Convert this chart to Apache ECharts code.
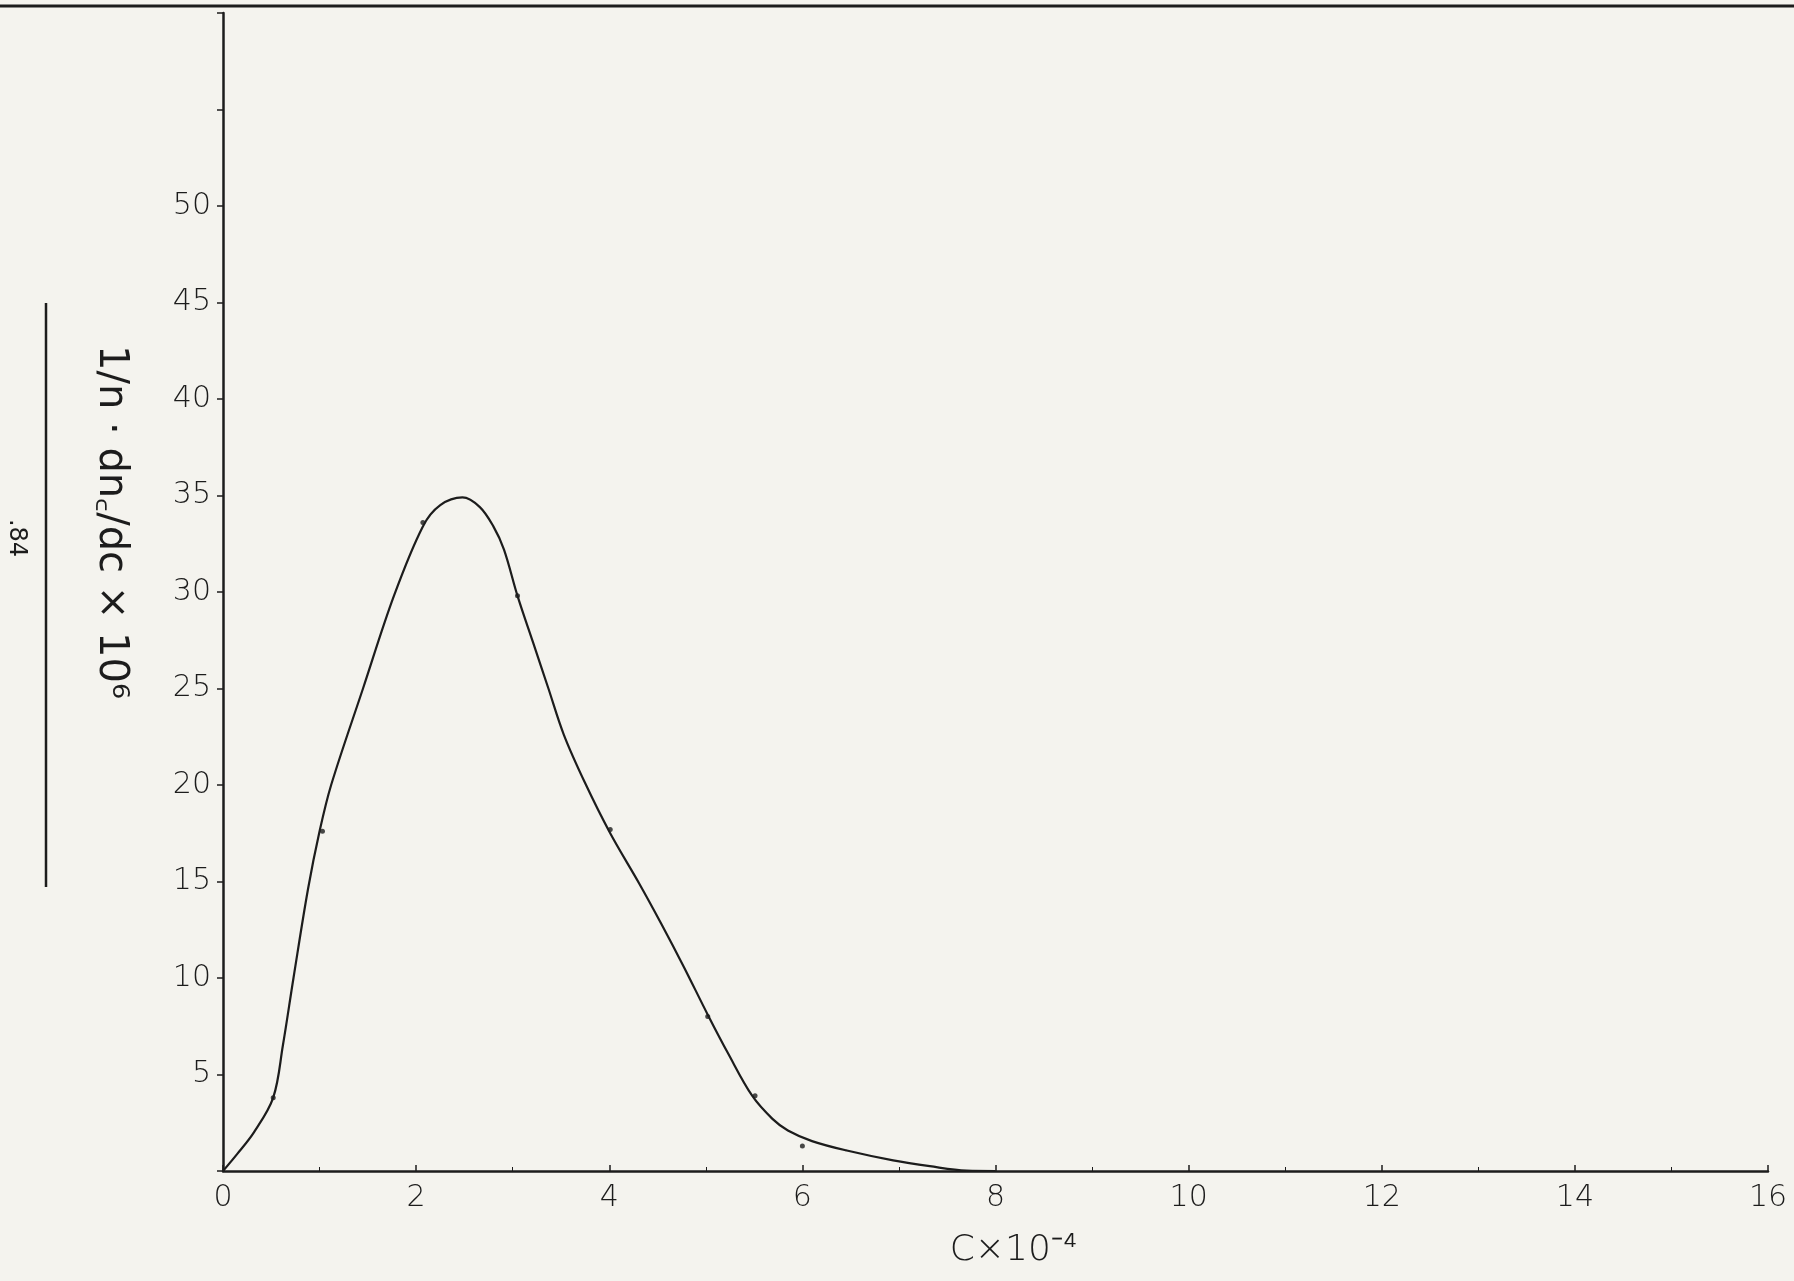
<!DOCTYPE html>
<html>
<head>
<meta charset="utf-8">
<script src="https://cdn.jsdelivr.net/npm/echarts@6/dist/echarts.min.js"></script>
<style>
html,body{margin:0;padding:0;background:#f4f3ee;}
#chart{width:1794px;height:1281px;}
</style>
</head>
<body>
<div id="chart"></div>
<script>
// concentration C x 10^-4
const cValues = [0, 0.15, 0.32, 0.52, 0.62, 0.73, 0.88, 1.00, 1.12, 1.45, 1.77, 2.07, 2.25, 2.48, 2.66, 2.80, 2.91, 3.05, 3.21, 3.37, 3.53, 3.75, 4.01, 4.31, 4.54, 4.77, 5.02, 5.23, 5.48, 5.69, 5.85, 6.10, 6.46, 6.94, 7.32, 7.70, 8.00];
// 10^6 x (1/n)(dn_c/dc)
const yValues = [0, 0.9, 2.0, 3.8, 6.5, 10.0, 14.6, 17.6, 20.0, 25.0, 29.8, 33.4, 34.5, 34.9, 34.4, 33.4, 32.2, 29.8, 27.4, 25.0, 22.6, 20.1, 17.5, 14.9, 12.8, 10.6, 8.1, 6.1, 3.9, 2.7, 2.1, 1.55, 1.06, 0.55, 0.25, 0.02, 0];
// plotted points (dots)
const dotC = [0.52, 1.03, 2.07, 3.05, 4.01, 5.02, 5.51, 6.00];
const dotY = [3.8, 17.6, 33.6, 29.8, 17.7, 8.0, 3.9, 1.3];
const xTicks = [0, 2, 4, 6, 8, 10, 12, 14, 16];
const yTickLabels = [5, 10, 15, 20, 25, 30, 35, 40, 45, 50];

const ink = '#1c1c1c';
const font = '"DejaVu Sans", sans-serif';

const chart = echarts.init(document.getElementById('chart'));
chart.setOption({
  backgroundColor: '#f4f3ee',
  animation: false,
  grid: { left: 223, right: 26, top: 13, bottom: 110, containLabel: false },
  xAxis: {
    type: 'value', min: 0, max: 16, interval: 2,
    name: 'C×10⁻⁴', nameLocation: 'middle', nameGap: 62,
    nameTextStyle: { fontSize: 36, color: ink, fontFamily: font, fontWeight: 'lighter', padding: [0, 0, 0, 36] },
    axisLine: { lineStyle: { color: ink, width: 2.5 } },
    axisTick: { show: true, inside: true, length: 6, lineStyle: { color: ink, width: 1.5 } },
    minorTick: { show: true, splitNumber: 2, length: 4, lineStyle: { color: ink } },
    splitLine: { show: false },
    axisLabel: {
      fontSize: 30, color: ink, fontFamily: font, margin: 12, fontWeight: 'lighter',
      formatter: v => xTicks.includes(v) ? String(v) : ''
    }
  },
  yAxis: {
    type: 'value', min: 0, max: 60, interval: 5,
    axisLine: { show: true, onZero: false, lineStyle: { color: ink, width: 2.5 } },
    axisTick: { show: true, inside: false, length: 6, lineStyle: { color: ink, width: 1.5 } },
    splitLine: { show: false },
    axisLabel: {
      fontSize: 30, color: ink, fontFamily: font, margin: 12, fontWeight: 'lighter',
      formatter: v => yTickLabels.includes(v) ? String(v) : ''
    }
  },
  graphic: [
    { type: 'line', shape: { x1: 0, y1: 6, x2: 1794, y2: 6 }, style: { stroke: ink, lineWidth: 3 } },
    { type: 'line', shape: { x1: 46, y1: 303, x2: 46, y2: 887 }, style: { stroke: ink, lineWidth: 2.5 } },
    { type: 'text', x: 110, y: 522, rotation: -Math.PI / 2,
      style: { text: '1/n · dn꜀/dc × 10⁶', fontSize: 40, fill: ink, fontFamily: font, align: 'center', verticalAlign: 'middle' } },
    { type: 'text', x: 16, y: 538, rotation: -Math.PI / 2,
      style: { text: '.84', fontSize: 24, fill: ink, fontFamily: font, align: 'center', verticalAlign: 'middle' } }
  ],
  series: [
    {
      type: 'line', smooth: 0.35, symbol: 'none',
      data: cValues.map((c, i) => [c, yValues[i]]),
      lineStyle: { color: ink, width: 2.2 }
    },
    {
      type: 'scatter', symbolSize: 5,
      data: dotC.map((c, i) => [c, dotY[i]]),
      itemStyle: { color: ink }
    }
  ]
});
</script>
</body>
</html>
